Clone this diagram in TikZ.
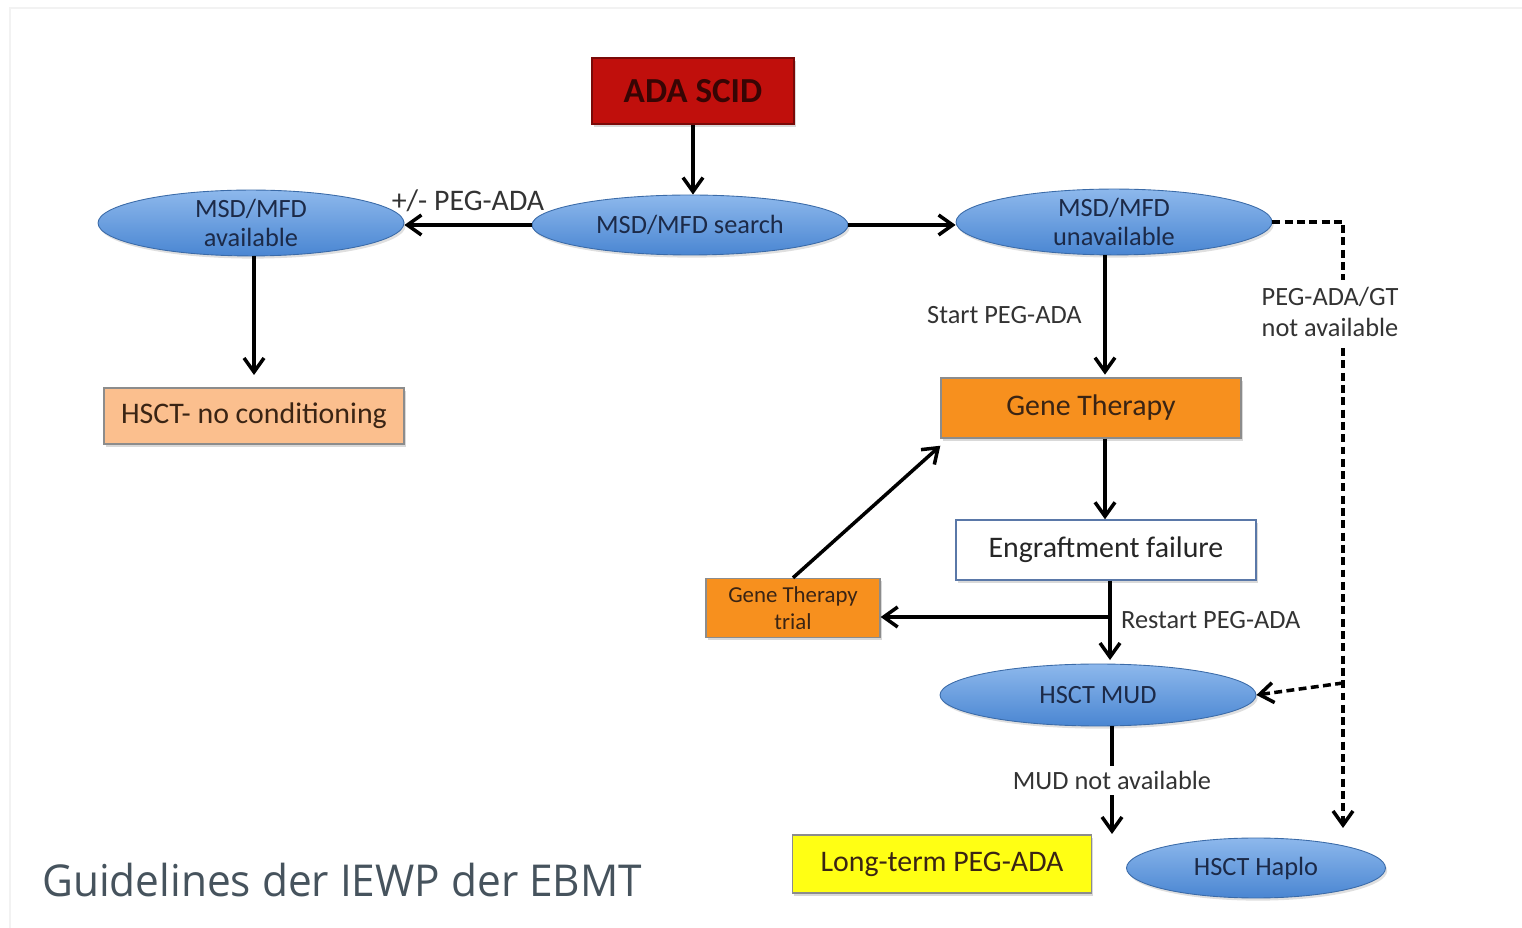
\documentclass[tikz,border=0pt]{standalone}
\usepackage{fontspec}
\setmainfont{Carlito}
\newfontfamily\captionfont{Open Sans}
\usetikzlibrary{shapes.geometric,shadows,arrows.meta}

\definecolor{scidred}{HTML}{C00F0C}
\definecolor{sciddark}{HTML}{7A0A08}
\definecolor{elltop}{HTML}{8DB8EC}
\definecolor{ellbot}{HTML}{4A86D2}
\definecolor{elltext}{HTML}{1C2A48}
\definecolor{gtorange}{HTML}{F7901E}
\definecolor{peach}{HTML}{FBBF8E}
\definecolor{ltyellow}{HTML}{FFFF14}
\definecolor{boxline}{HTML}{5A78A8}
\definecolor{boxtext}{HTML}{3A2414}
\definecolor{captiongray}{HTML}{46535D}

\tikzset{
  arrow/.style={line width=2pt, -{Straight Barb[length=2.8mm,width=4mm]}},
  dasharrow/.style={arrow, dash pattern=on 4.5pt off 2.5pt},
  flowbox/.style={draw=black!45, line width=0.8pt, inner sep=0pt,
    drop shadow={shadow xshift=1pt, shadow yshift=-1.5pt, opacity=0.3},
    text=boxtext, align=center},
  flowell/.style={ellipse, draw=ellbot!80!black, line width=0.5pt, inner sep=0pt,
    top color=elltop, bottom color=ellbot, text=elltext, align=center,
    drop shadow={shadow xshift=1pt, shadow yshift=-1.5pt, opacity=0.25}},
  edgelabel/.style={text=black!80, font=\fontsize{15}{18}\selectfont, align=center}
}

\begin{document}
\begin{tikzpicture}[x=0.02cm, y=-0.02cm]
\useasboundingbox (0,0) rectangle (1522,928);
\draw[black!5, line width=0.8pt] (10,928) -- (10,8) -- (1522,8);

% top of the chart
\node[flowbox, fill=scidred, draw=sciddark, text=sciddark!45!black,
  minimum width=4.04cm, minimum height=1.32cm,
  font=\bfseries\fontsize{20}{24}\selectfont] (scid) at (693,91) {ADA SCID};
\node[flowell, minimum width=6.32cm, minimum height=1.2cm,
  font=\fontsize{15}{18}\selectfont] (search) at (690,225) {MSD/MFD search};
\node[flowell, minimum width=6.12cm, minimum height=1.2cm,
  font=\fontsize{15}{16}\selectfont] (avail) at (251,223) {MSD/MFD\\available};
\node[flowell, minimum width=6.32cm, minimum height=1.24cm,
  font=\fontsize{15}{16}\selectfont] (unavail) at (1114,222) {MSD/MFD\\unavailable};

% left branch
\node[flowbox, fill=peach, minimum width=6cm, minimum height=1.12cm,
  font=\fontsize{17}{20}\selectfont] (nocond) at (254,416) {HSCT- no conditioning};

% right branch
\node[flowbox, fill=gtorange, minimum width=6cm, minimum height=1.2cm,
  font=\fontsize{17}{20}\selectfont] (gt) at (1091,408) {Gene Therapy};
\node[flowbox, fill=white, draw=boxline, text=black!85, minimum width=6cm, minimum height=1.2cm,
  font=\fontsize{17}{20}\selectfont] (engraft) at (1106,550) {Engraftment failure};
\node[flowbox, fill=gtorange, minimum width=3.48cm, minimum height=1.18cm,
  font=\fontsize{13}{15}\selectfont] (gttrial) at (793,608) {Gene Therapy\\trial};
\node[flowell, minimum width=6.32cm, minimum height=1.24cm,
  font=\fontsize{15}{18}\selectfont] (mud) at (1098,695) {HSCT MUD};
\node[flowbox, fill=ltyellow, minimum width=5.98cm, minimum height=1.16cm,
  font=\fontsize{17}{18}\selectfont] (longterm) at (942,864) {Long-term PEG-ADA};
\node[flowell, minimum width=5.18cm, minimum height=1.2cm,
  font=\fontsize{15}{18}\selectfont] (haplo) at (1256,868) {HSCT Haplo};

\node[anchor=west, text=captiongray, font=\captionfont\fontsize{25}{30}\selectfont]
  (source) at (36,880) {\scalebox{0.965}[1]{Guidelines der IEWP der EBMT}};

% connectors
\coordinate (dtop) at (1343,222);
\coordinate (hapend) at (1343,828);
\coordinate (mudend) at (1112,834);

\draw[arrow] (scid.south) -- (scid.south |- search.north);
\draw[arrow] (search.west) -- node[edgelabel, above=3pt, font=\fontsize{17}{18}\selectfont] {+/- PEG-ADA} (search.west -| avail.east);
\draw[arrow] (search.east) -- (search.east -| unavail.west);
\draw[arrow] (avail.south -| nocond.north) -- ([yshift=7pt]nocond.north);
\draw[arrow] (unavail.south -| 1105,0) -- node[edgelabel, left=9pt] {Start PEG-ADA} ([yshift=1.5pt]gt.north -| 1105,0);
\draw[arrow] (gt.south -| 1105,0) -- (engraft.north -| 1105,0);
\draw[arrow] (engraft.south -| 1110,0) coordinate (efout) -- node[edgelabel, right=2pt] {Restart PEG-ADA} ([yshift=2pt]mud.north -| 1110,0);
\draw[arrow] (efout |- 0,617) -- (gttrial.east |- 0,617);
\draw[arrow] (gttrial.north) -- ([yshift=-4pt]gt.south west);
\draw[arrow] (mud.south -| mudend) -- node[edgelabel, fill=white, inner sep=3pt] {MUD not available} (mudend);
\draw[dasharrow] (unavail.east) -- (dtop) -- (hapend);
\draw[dasharrow] (dtop |- 0,683) -- (mud.east);
\node[edgelabel, fill=white, inner sep=4pt] (gtna) at (1330,312) {PEG-ADA/GT\\not available};
\end{tikzpicture}
\end{document}
